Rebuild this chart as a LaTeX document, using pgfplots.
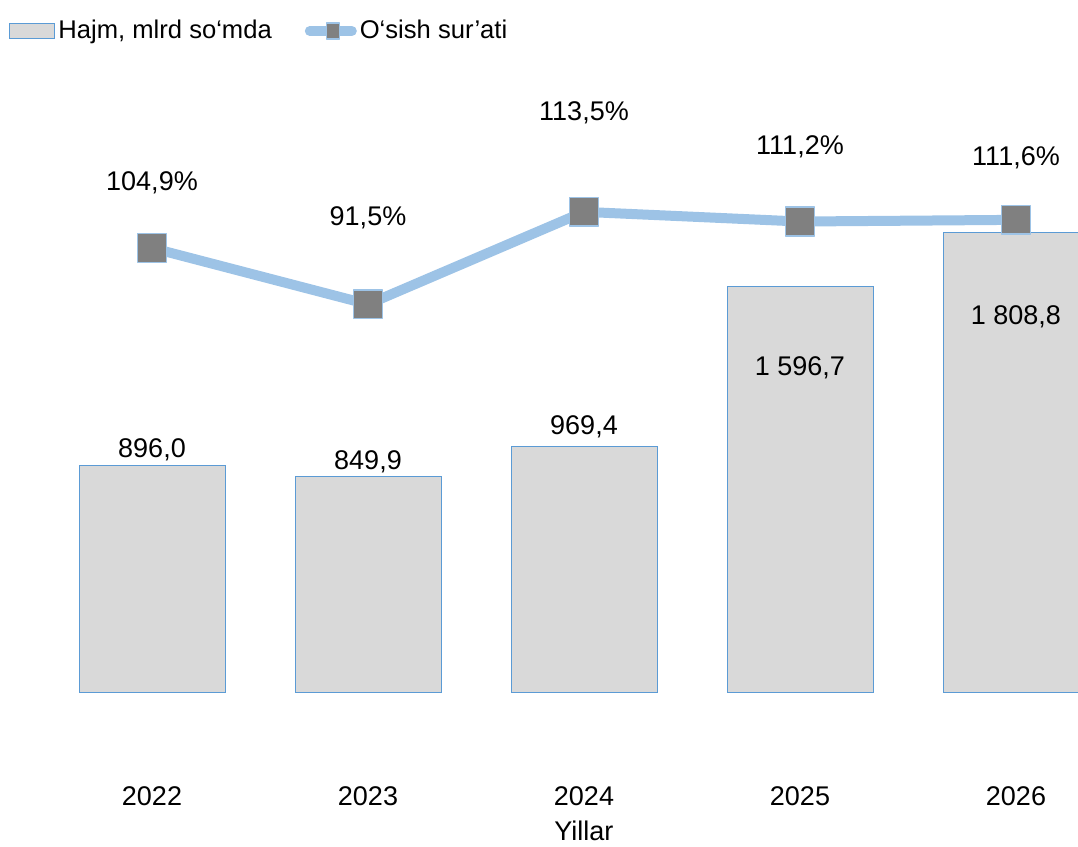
\documentclass[border=0pt]{standalone}
\usepackage{fontspec}
\setmainfont{Liberation Sans}
\usepackage{pgfplots}
\pgfplotsset{compat=1.18}
\definecolor{barfill}{HTML}{D9D9D9}
\definecolor{baredge}{HTML}{5B9BD5}
\definecolor{lineblue}{HTML}{9DC3E6}
\definecolor{markgray}{HTML}{808080}
\begin{document}
\begin{tikzpicture}
\path[use as bounding box] (-22pt,-43.5pt) rectangle (517pt,380pt);
\begin{axis}[at={(0,0)}, anchor=south west, width=517pt, height=350pt, scale only axis,
  xmin=-0.5, xmax=4.287, ymin=-263.3, ymax=2487.6,
  axis line style={draw=none}, major tick length=0pt, ytick=\empty,
  xtick={0,1,2,3,4}, xticklabels={2022,2023,2024,2025,2026},
  xticklabel style={yshift=-10pt},
  xlabel={Yillar}, xlabel style={at={(axis description cs:0.5222,0)}, anchor=north, yshift=-27pt},
  font=\fontsize{13.5}{16}\selectfont,
  /pgf/number format/assume math mode=true]
\addplot[ybar, bar width=73pt, fill=barfill, draw=baredge, line width=0.5pt]
  coordinates {(0,896.0) (1,849.9) (2,969.4) (3,1596.7) (4,1808.8)};
\node at (axis cs:0,955) {896,0};
\node at (axis cs:1,908) {849,9};
\node at (axis cs:2,1045) {969,4};
\node at (axis cs:3,1277) {1 596,7};
\node at (axis cs:4,1478) {1 808,8};
\end{axis}
\begin{axis}[at={(0,0)}, anchor=south west, width=517pt, height=350pt, scale only axis,
  xmin=-0.5, xmax=4.287, ymin=-17.0, ymax=149.66, hide axis, clip=false,
  font=\fontsize{13.5}{16}\selectfont,
  legend columns=2,
  legend style={at={(-0.0338,1.0414)}, anchor=west, draw=none, fill=none, inner sep=0pt,
    nodes={inner xsep=1.5pt, inner ysep=2pt}, font=\fontsize{12.8}{15}\selectfont,
    /tikz/every even column/.append style={column sep=15pt}}]
\addlegendimage{legend image code/.code={\draw[fill=barfill, draw=baredge, line width=0.5pt] (0pt,-3.75pt) rectangle (22.5pt,3.75pt);}}
\addlegendentry{Hajm, mlrd so‘mda}
\addplot[color=lineblue, line width=5pt, line join=round, mark=square*, mark size=7.2pt,
  mark options={fill=markgray, draw=lineblue, line width=0.8pt},
  legend image code/.code={\draw[lineblue, line width=5pt, line cap=round] (2.5pt,0pt) -- (23.5pt,0pt);
    \draw[fill=markgray, draw=lineblue, line width=0.6pt] (11pt,-4pt) rectangle (17.5pt,4pt);}]
  coordinates {(0,104.9) (1,91.5) (2,113.5) (3,111.2) (4,111.6)};
\addlegendentry{O‘sish sur’ati}
\node at (axis cs:0,120.4) {104,9\%};
\node at (axis cs:1,112.04) {91,5\%};
\node at (axis cs:2,137.0) {113,5\%};
\node at (axis cs:3,128.95) {111,2\%};
\node at (axis cs:4,126.33) {111,6\%};
\end{axis}
\end{tikzpicture}
\end{document}
